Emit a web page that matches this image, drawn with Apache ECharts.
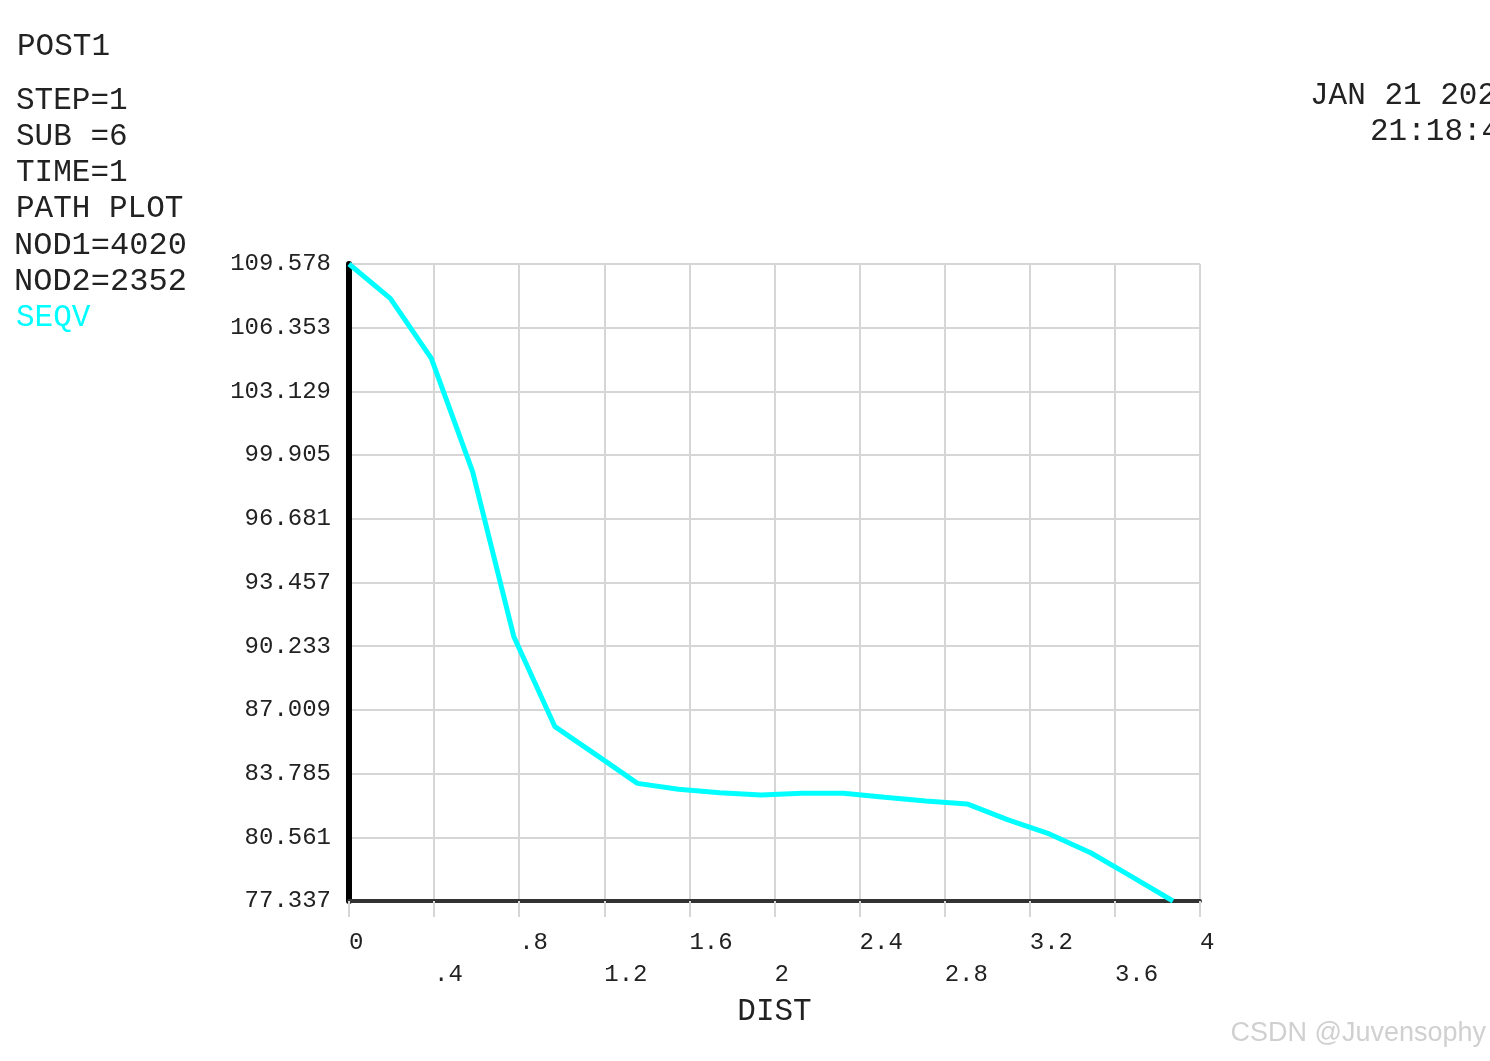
<!DOCTYPE html>
<html>
<head>
<meta charset="utf-8">
<script src="https://cdn.jsdelivr.net/npm/echarts@6/dist/echarts.min.js"></script>
<style>
  html, body { margin: 0; padding: 0; background: #fff; }
  #chart { width: 1490px; height: 1061px; }
</style>
</head>
<body>
<div id="chart"></div>
<script>
// path distance along the path (x) and von Mises stress SEQV (y)
const dist = [0, 0.194, 0.387, 0.581, 0.775, 0.968, 1.162, 1.356, 1.549, 1.743, 1.937,
  2.130, 2.324, 2.518, 2.711, 2.905, 3.098, 3.292, 3.486, 3.679, 3.873]
const seqv = [109.578, 107.84, 104.80, 99.07, 90.71, 86.16, 84.73, 83.29, 82.99, 82.82, 82.70,
  82.79, 82.79, 82.59, 82.40, 82.25, 81.44, 80.73, 79.78, 78.57, 77.337]

// axis ticks as printed by the plot
const yTicks = [77.337, 80.561, 83.785, 87.009, 90.233, 93.457, 96.681, 99.905, 103.129, 106.353, 109.578]
const yTickLabels = ['77.337', '80.561', '83.785', '87.009', '90.233', '93.457', '96.681', '99.905', '103.129', '106.353', '109.578']
const xTickLabels = ['0', '.4', '.8', '1.2', '1.6', '2', '2.4', '2.8', '3.2', '3.6', '4']

// header text block on the left
const infoLines = ['STEP=1', 'SUB =6', 'TIME=1', 'PATH PLOT', 'NOD1=4020', 'NOD2=2352']

const mono = '"Liberation Mono", "DejaVu Sans Mono", monospace'
const gridColor = '#d6d6d6'

const chart = echarts.init(document.getElementById('chart'))

const graphics = [
  {
    type: 'text', left: 17, top: 31,
    style: { text: 'POST1', font: '31px ' + mono, fill: '#222' }
  },
  {
    type: 'text', left: 16, top: 302,
    style: { text: 'SEQV', font: '31px ' + mono, fill: '#00ffff' }
  },
  {
    type: 'text', left: 1310, top: 80,
    style: { text: 'JAN 21 2023', font: '31px ' + mono, fill: '#222' }
  },
  {
    type: 'text', left: 1370, top: 116,
    style: { text: '21:18:44', font: '31px ' + mono, fill: '#222' }
  },
  {
    type: 'text', right: 4, top: 1020,
    style: {
      text: 'CSDN @Juvensophy', font: '27px "Liberation Sans", Arial, sans-serif',
      fill: '#d0d0d0', shadowColor: 'rgba(0,0,0,0.25)', shadowBlur: 2, shadowOffsetY: 1
    }
  }
]
infoLines.forEach((t, i) => {
  graphics.push({
    type: 'text', left: i < 4 ? 16 : 14, top: 85 + i * 36.2,
    style: { text: t, font: (i < 4 ? '31px ' : '32px ') + mono, fill: '#222' }
  })
})

chart.setOption({
  animation: false,
  backgroundColor: '#ffffff',
  grid: {
    left: 349,
    right: 290,
    top: 264,
    bottom: 160,
    containLabel: false
  },
  graphic: graphics,
  xAxis: {
    type: 'value',
    min: 0,
    max: 4,
    interval: 0.4,
    name: 'DIST',
    nameLocation: 'middle',
    nameGap: 94,
    nameTextStyle: { fontFamily: mono, fontSize: 31, color: '#222' },
    axisLine: { show: true, onZero: false, lineStyle: { color: '#333', width: 4 } },
    axisTick: { show: true, length: 16, lineStyle: { color: gridColor, width: 2 } },
    splitLine: { show: true, lineStyle: { color: gridColor, width: 2 } },
    axisLabel: {
      margin: 26,
      align: 'left',
      fontFamily: mono,
      fontSize: 24,
      color: '#222',
      lineHeight: 32,
      formatter(value, index) {
        const label = xTickLabels[index]
        return index % 2 === 1 ? '\n' + label : label
      }
    }
  },
  yAxis: {
    type: 'value',
    min: 77.337,
    max: 109.578,
    axisLine: { show: true, onZero: false, lineStyle: { color: '#000', width: 6 } },
    axisTick: { show: false, customValues: yTicks },
    splitLine: { show: true, lineStyle: { color: gridColor, width: 2 } },
    axisLabel: {
      customValues: yTicks,
      margin: 18,
      fontFamily: mono,
      fontSize: 24,
      color: '#222',
      formatter(value) {
        const i = yTicks.indexOf(value)
        return i >= 0 ? yTickLabels[i] : value.toFixed(3)
      }
    }
  },
  series: [{
    name: 'SEQV',
    type: 'line',
    data: dist.map((d, i) => [d, seqv[i]]),
    showSymbol: false,
    lineStyle: { color: '#00ffff', width: 5 },
    itemStyle: { color: '#00ffff' },
    z: 3
  }]
})
</script>
</body>
</html>
